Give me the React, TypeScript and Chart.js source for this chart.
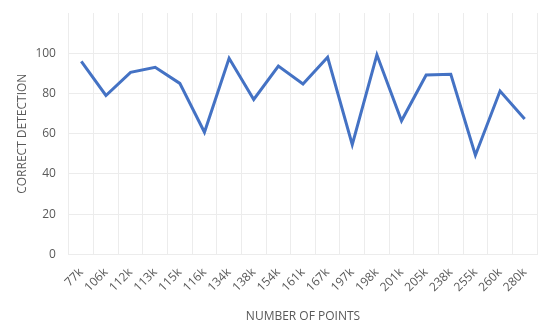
import React, { useEffect, useRef } from "react";
import { Chart, registerables } from "chart.js";

Chart.register(...registerables);

const categories = ["77k", "106k", "112k", "113k", "115k", "116k", "134k", "138k", "154k", "161k", "167k", "197k", "198k", "201k", "205k", "238k", "255k", "260k", "280k"];
const detection = [96, 79, 90.5, 93, 85, 60.7, 97.5, 77, 93.6, 84.7, 98, 54.5, 99.2, 66.4, 89.2, 89.5, 49.3, 81.2, 67.3];
const yTicks = [0, 20, 40, 60, 80, 100];

export default function App() {
  const ref = useRef<HTMLCanvasElement | null>(null);
  useEffect(() => {
    if (!ref.current) return;
    const font = { family: "'Open Sans', 'Liberation Sans', sans-serif", size: 12 };
    const chart = new Chart(ref.current, {
      type: "line",
      data: {
        labels: categories,
        datasets: [
          {
            data: detection,
            borderColor: "#4472C4",
            borderWidth: 3,
            pointRadius: 0,
            tension: 0,
            fill: false,
          },
        ],
      },
      options: {
        animation: false,
        responsive: false,
        plugins: { legend: { display: false }, tooltip: { enabled: false } },
        layout: { padding: { top: 13, right: 13, left: 11, bottom: 1 } },
        scales: {
          x: {
            offset: true,
            grid: { offset: true, color: "#ececec", drawTicks: false },
            border: { color: "#ececec" },
            ticks: { color: "#595959", font, minRotation: 45, maxRotation: 45, padding: 11, autoSkip: false },
            title: { display: true, text: "NUMBER OF POINTS", color: "#595959", font, padding: { top: 4 } },
          },
          y: {
            min: 0,
            max: 120,
            afterBuildTicks: (axis: any) => {
              axis.ticks = [...yTicks, 120].map((v) => ({ value: v }));
            },
            grid: {
              color: (ctx: any) => (ctx.tick && ctx.tick.value === 120 ? "rgba(0,0,0,0)" : "#ececec"),
              drawTicks: true,
              tickLength: 13,
              tickColor: "rgba(0,0,0,0)",
            },
            border: { display: false },
            ticks: {
              color: "#595959",
              font,
              padding: 0,
              callback: (v: any) => (v === 120 ? "" : String(v)),
            },
            title: { display: true, text: "CORRECT DETECTION", color: "#595959", font, padding: { bottom: 6 } },
          },
        },
      },
    });
    return () => chart.destroy();
  }, []);
  return (
    <div style={{ position: "fixed", left: 0, top: 0, width: 550, height: 329, background: "#fff" }}>
      <canvas ref={ref} width={550} height={329} />
    </div>
  );
}
